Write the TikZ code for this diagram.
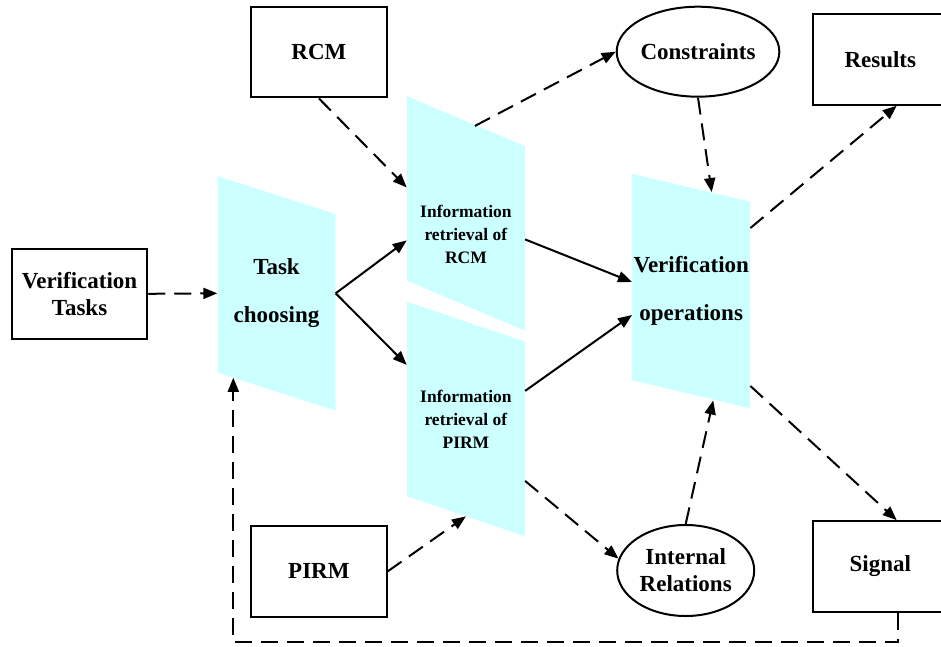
\documentclass[tikz,border=0pt]{standalone}
\usepackage{fontspec}
\setmainfont{Liberation Serif}[BoldFont={Liberation Serif Bold}]
\usetikzlibrary{arrows.meta,shapes.geometric}
\definecolor{paracyan}{RGB}{204,255,255}
\newcommand\mainlbl{\rmfamily\bfseries\fontsize{23}{27}\selectfont}
\newcommand\infolbl{\rmfamily\bfseries\fontsize{17.5}{23}\selectfont}

\begin{document}
\begin{tikzpicture}[x=1pt,y=-1pt,
    box/.style={draw,line width=2pt,minimum width=135.5pt,minimum height=90.5pt,inner sep=0pt,align=center,font=\mainlbl},
    oval/.style={ellipse,draw,line width=2pt,inner sep=0pt,align=center,font=\mainlbl},
    slab/.style={minimum width=118pt,minimum height=234.5pt,inner sep=0pt,align=center,font=\mainlbl,
      path picture={\fill[paracyan] (path picture bounding box.north west) -- ([yshift=-#1]path picture bounding box.north east)
        -- (path picture bounding box.south east) -- ([yshift=#1]path picture bounding box.south west) -- cycle;}},
    dflow/.style={line width=2pt,dash pattern=on 17pt off 9pt,-{Triangle[length=14pt,width=11pt]}},
    sflow/.style={line width=2pt,-{Triangle[length=14pt,width=11pt]}}]
    \useasboundingbox (0,0) rectangle (941,646);

    % boxes and ovals
    \node[box] (vt) at (79.5,293.8) {Verification\\Tasks};
    \node[box] (rcm) at (318.9,52.2) {RCM};
    \node[box] (pirm) at (318.9,571.4) {PIRM};
    \node[box] (res) at (880.3,59.5) {Results};
    \node[box] (sig) at (880.3,566.4) {Signal};
    \node[oval,minimum width=149pt,minimum height=90pt] (cons) at (698,51.7) {Constraints};
    \node[oval,minimum width=137pt,minimum height=91pt] (ir) at (685.7,570.5) {Internal\\Relations};

    % slanted steps
    \node[slab=38pt] (tc) at (276.5,293.3) {Task\\[21pt]choosing};
    \node[slab=50pt] (irc) at (465.9,213.4) {};
    \node[font=\infolbl,align=center] (irct) at ([yshift=-21pt]irc.center) {Information\\retrieval of\\RCM};
    \node[slab=40pt,font=\infolbl] (irp) at (465.9,418.9) {Information\\retrieval of\\PIRM};
    \node[slab=28pt] (vo) at (691.2,291) {Verification\\[21pt]operations};

    % flows
    \draw[dflow] (vt.east) -- (tc.west);
    \draw[dflow] (rcm.south) -- ([yshift=26pt]irc.west);
    \draw[sflow] (tc.east) -- ([yshift=-27pt]irc.west);
    \draw[sflow] (tc.east) -- ([yshift=54pt]irp.west);
    \draw[sflow] ([yshift=-26pt]irc.east) -- ([yshift=9pt]vo.west);
    \draw[sflow] ([yshift=28pt]irp.east) -- ([yshift=-24pt]vo.west);
    \draw[dflow] ([xshift=9pt,yshift=-30pt]irc.north) -- (cons.west);
    \draw[dflow] (cons.south) -- ([xshift=20.5pt,yshift=-18.5pt]vo.north);
    \draw[dflow] ([yshift=63pt]vo.east) -- ([xshift=16.4pt]res.south);
    \draw[dflow] ([yshift=-95pt]vo.east) -- ([xshift=16.4pt]sig.north);
    \draw[dflow] ([yshift=-62pt]irp.east) -- (ir.170);
    \draw[dflow] (ir.north) -- ([xshift=22pt,yshift=8pt]vo.south);
    \draw[dflow] (pirm.east) -- ([yshift=20pt]irp.south);
    \draw[dflow] ([xshift=18pt]sig.south) -- ++(0,29.5) -| ([xshift=16pt,yshift=33pt]tc.south west);
\end{tikzpicture}
\end{document}
